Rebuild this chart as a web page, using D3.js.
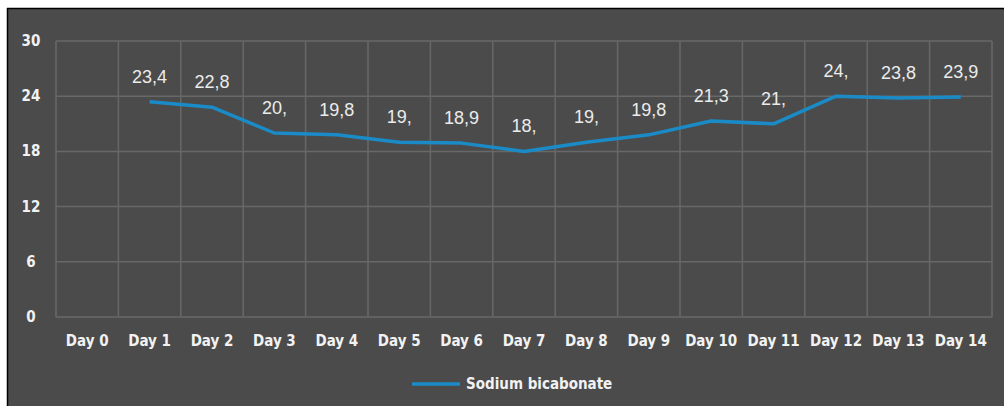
<!DOCTYPE html>
<html><head><meta charset="utf-8">
<script src="https://cdn.jsdelivr.net/npm/d3@7"></script>
<style>
html,body{margin:0;padding:0;background:#fff;}
svg{display:block;}
.cond{font-family:"Liberation Sans Narrow","DejaVu Sans Condensed","Roboto Condensed",sans-serif;font-stretch:condensed;font-weight:bold;}
</style></head>
<body>
<svg id="c" width="1004" height="406"></svg>
<script>
const categories = ["Day 0","Day 1","Day 2","Day 3","Day 4","Day 5","Day 6","Day 7","Day 8","Day 9","Day 10","Day 11","Day 12","Day 13","Day 14"];
const values = [null,23.4,22.8,20,19.8,19,18.9,18,19,19.8,21.3,21,24,23.8,23.9];
const valueLabels = ["","23,4","22,8","20,","19,8","19,","18,9","18,","19,","19,8","21,3","21,","24,","23,8","23,9"];
const yTicks = [0,6,12,18,24,30];
const seriesName = "Sodium bicabonate";

const svg = d3.select("#c");
// frame
svg.append("rect").attr("x",7).attr("y",8).attr("width",997).attr("height",398).attr("fill","#4b4b4b");
svg.append("line").attr("x1",7).attr("x2",1004).attr("y1",8.5).attr("y2",8.5).attr("stroke","#000").attr("stroke-width",1.5);
svg.append("line").attr("x1",7.5).attr("x2",7.5).attr("y1",8).attr("y2",406).attr("stroke","#000").attr("stroke-width",1.5);

const L=56,R=992,T=41,B=317;
const x = d3.scaleBand().domain(categories).range([L,R]).padding(0);
const y = d3.scaleLinear().domain([0,30]).range([B,T]);

const grid = svg.append("g").attr("stroke","#686868").attr("stroke-width",1.5);
yTicks.forEach(t=>{
  grid.append("line").attr("x1",L).attr("x2",R).attr("y1",y(t)).attr("y2",y(t));
});
categories.forEach(c=>{
  grid.append("line").attr("x1",x(c)).attr("x2",x(c)).attr("y1",T).attr("y2",B);
});
grid.append("line").attr("x1",R).attr("x2",R).attr("y1",T).attr("y2",B);

// y axis labels
svg.append("g").selectAll("text").data(yTicks).join("text")
  .attr("class","cond").attr("x",31).attr("y",d=>y(d)+5)
  .attr("text-anchor","middle").attr("fill","#f2f2f2").attr("font-size",15)
  .text(d=>d);

// x axis labels
svg.append("g").selectAll("text").data(categories).join("text")
  .attr("class","cond").attr("x",d=>x(d)+x.bandwidth()/2).attr("y",346)
  .attr("text-anchor","middle").attr("fill","#f2f2f2").attr("font-size",15)
  .text(d=>d);

const pts = categories.map((c,i)=>({c,v:values[i],lab:valueLabels[i]})).filter(d=>d.v!==null);
const line = d3.line().x(d=>x(d.c)+x.bandwidth()/2).y(d=>y(d.v));
svg.append("path").datum(pts).attr("d",line).attr("fill","none")
  .attr("stroke","#1a8bc6").attr("stroke-width",3.5).attr("stroke-linejoin","round");

svg.append("g").selectAll("text").data(pts).join("text")
  .attr("x",d=>x(d.c)+x.bandwidth()/2).attr("y",d=>y(d.v)-19)
  .attr("text-anchor","middle").attr("fill","#ececec")
  .attr("font-family","Liberation Sans, Arial, sans-serif").attr("font-size",18)
  .text(d=>d.lab);

// legend
svg.append("line").attr("x1",412).attr("x2",460).attr("y1",384).attr("y2",384)
  .attr("stroke","#1a8bc6").attr("stroke-width",3.5);
svg.append("text").attr("class","cond").attr("x",466).attr("y",389)
  .attr("fill","#f2f2f2").attr("font-size",15).text(seriesName);
</script>
</body></html>
